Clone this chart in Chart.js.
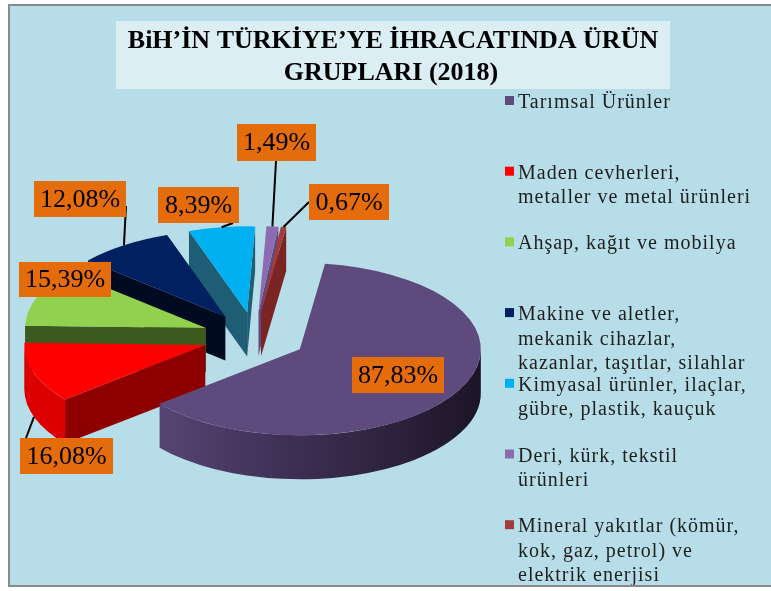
<!DOCTYPE html>
<html>
<head>
<meta charset="utf-8">
<script src="https://cdn.jsdelivr.net/npm/chart.js@4.4.0/dist/chart.umd.min.js"></script>
<style>
  html, body { margin: 0; padding: 0; background: #fff; }
  canvas { display: block; }
</style>
</head>
<body>
<canvas id="myChart" width="771" height="591"></canvas>
<script>
// data
const categories = [
  ['Tarımsal Ürünler'],
  ['Maden cevherleri,', 'metaller ve metal ürünleri'],
  ['Ahşap, kağıt ve mobilya'],
  ['Makine ve aletler,', 'mekanik cihazlar,', 'kazanlar, taşıtlar, silahlar'],
  ['Kimyasal ürünler, ilaçlar,', 'gübre, plastik, kauçuk'],
  ['Deri, kürk, tekstil', 'ürünleri'],
  ['Mineral yakıtlar (kömür,', 'kok, gaz, petrol) ve', 'elektrik enerjisi']
];
const shares = [87.83, 16.08, 15.39, 12.08, 8.39, 1.49, 0.67];
const titleLines = ['BiH’İN TÜRKİYE’YE İHRACATINDA ÜRÜN', 'GRUPLARI (2018)'];

// styles
const topColors = ['#5F4A7D', '#FF0000', '#92D050', '#002060', '#00B0F0', '#8C6BB1', '#A23B3B'];
const cutColors = ['#3E3054', '#8E0000', '#3D5A1F', '#000B22', '#1E5D74', '#5E4A7C', '#7B2424'];
const wallColors = [null, '#DC0000', '#5E8A30', '#001540', '#0A7FAF', '#6A5290', '#8A2C2C'];
const labelBoxes = [
  { x: 352, y: 357, w: 92, h: 36 },
  { x: 20, y: 438, w: 93, h: 36, ax: 26, ay: 438, drop: true },
  { x: 19, y: 262, w: 92, h: 35 },
  { x: 34, y: 181, w: 92, h: 36, ax: 126, ay: 206 },
  { x: 158, y: 187, w: 81, h: 36, ax: 233, ay: 223 },
  { x: 237, y: 124, w: 79, h: 37, ax: 276, ay: 161 },
  { x: 309, y: 184, w: 80, h: 36, ax: 309, ay: 202 }
];

const K = 0.476;      // vertical squash of the pie
const DEPTH = 44;     // thickness of the pie
const EXPLODE = 52;   // distance each slice is pulled out

const fmt = v => v.toFixed(2).replace('.', ',') + '%';

function screenGeom(chart, arc) {
  const { top, bottom } = chart.chartArea;
  const cy = (top + bottom) / 2;
  return {
    vx: arc.x,
    vy: cy + (arc.y - cy) * K,
    r: arc.outerRadius,
    ry: arc.outerRadius * K,
    cy: cy
  };
}

function drawSides(ctx, chart, arc, i) {
  const g = screenGeom(chart, arc);
  const a0 = arc.startAngle, a1 = arc.endAngle;
  const cut = (a, color) => {
    const px = g.vx + g.r * Math.cos(a), py = g.vy + g.ry * Math.sin(a);
    ctx.beginPath();
    ctx.moveTo(g.vx, g.vy);
    ctx.lineTo(px, py);
    ctx.lineTo(px, py + DEPTH);
    ctx.lineTo(g.vx, g.vy + DEPTH);
    ctx.closePath();
    ctx.fillStyle = color;
    ctx.fill();
  };
  if (Math.cos(a0) < 0) cut(a0, cutColors[i]);
  if (Math.cos(a1) > 0) cut(a1, cutColors[i]);

  const s = Math.max(a0, 0), e = Math.min(a1, Math.PI);
  if (s < e) {
    let fill = wallColors[i];
    if (!fill) {
      fill = ctx.createLinearGradient(g.vx - g.r, 0, g.vx + g.r, 0);
      fill.addColorStop(0, '#5E4A7C');
      fill.addColorStop(0.45, '#3F3156');
      fill.addColorStop(0.8, '#2A2039');
      fill.addColorStop(1, '#1C1426');
    }
    ctx.beginPath();
    ctx.ellipse(g.vx, g.vy, g.r, g.ry, 0, s, e, false);
    ctx.ellipse(g.vx, g.vy + DEPTH, g.r, g.ry, 0, e, s, true);
    ctx.closePath();
    ctx.fillStyle = fill;
    ctx.fill();
  }
}

const pie3d = {
  id: 'pie3d',
  beforeDraw(chart) {
    const ctx = chart.ctx;
    ctx.save();
    ctx.fillStyle = '#FFFFFF';
    ctx.fillRect(0, 0, chart.width, chart.height);
    ctx.fillStyle = '#B7DEE8';
    ctx.fillRect(10, 6, chart.width - 10, 579);
    // title box
    ctx.fillStyle = '#DAEEF3';
    ctx.fillRect(116, 21, 554, 68);
    ctx.fillStyle = '#000';
    ctx.font = 'bold 26px "Liberation Serif"';
    ctx.textAlign = 'center';
    ctx.textBaseline = 'alphabetic';
    ctx.fillText(titleLines[0], 393, 48);
    ctx.fillText(titleLines[1], 391, 80);
    // legend
    ctx.textAlign = 'left';
    ctx.font = '20px "Liberation Serif"';
    ctx.letterSpacing = '1px';
    categories.forEach((lines, i) => {
      const base = 108 + i * 70.7;
      ctx.fillStyle = topColors[i];
      ctx.fillRect(505, base - 12, 9, 9);
      ctx.fillStyle = '#1E1E1E';
      lines.forEach((t, j) => ctx.fillText(t, 518, base + j * 24.5));
    });
    ctx.restore();
  },
  afterDatasetUpdate(chart) {
    const meta = chart.getDatasetMeta(0);
    meta.data.forEach(arc => {
      const mid = (arc.startAngle + arc.endAngle) / 2;
      arc.x += Math.cos(mid) * EXPLODE;
      arc.y += Math.sin(mid) * EXPLODE;
    });
  },
  beforeDatasetsDraw(chart) {
    const ctx = chart.ctx;
    const arcs = chart.getDatasetMeta(0).data;
    const midSin = a => Math.sin((a.startAngle + a.endAngle) / 2);
    const order = arcs.map((a, i) => i).sort((i, j) => midSin(arcs[i]) - midSin(arcs[j]));
    ctx.save();
    order.forEach(i => drawSides(ctx, chart, arcs[i], i));
    ctx.restore();
    const cy = (chart.chartArea.top + chart.chartArea.bottom) / 2;
    ctx.save();
    ctx.translate(0, cy);
    ctx.scale(1, K);
    ctx.translate(0, -cy);
  },
  afterDatasetsDraw(chart) {
    const ctx = chart.ctx;
    ctx.restore();
    const arcs = chart.getDatasetMeta(0).data;
    ctx.save();
    // leader lines
    ctx.strokeStyle = '#000';
    ctx.lineWidth = 2;
    arcs.forEach((arc, i) => {
      const b = labelBoxes[i];
      if (b.ax === undefined) return;
      const g = screenGeom(chart, arc);
      const m = (arc.startAngle + arc.endAngle) / 2;
      const px = g.vx + g.r * Math.cos(m);
      const py = g.vy + g.ry * Math.sin(m) + (b.drop ? DEPTH : 0);
      ctx.beginPath();
      ctx.moveTo(b.ax, b.ay);
      ctx.lineTo(px, py);
      ctx.stroke();
    });
    // value boxes
    ctx.font = '26px "Liberation Serif"';
    ctx.textAlign = 'center';
    ctx.textBaseline = 'middle';
    shares.forEach((v, i) => {
      const b = labelBoxes[i];
      ctx.fillStyle = '#E46C0A';
      ctx.fillRect(b.x, b.y, b.w, b.h);
      ctx.fillStyle = '#000';
      ctx.fillText(fmt(v), b.x + b.w / 2, b.y + b.h / 2 + 1);
    });
    ctx.restore();
  },
  afterDraw(chart) {
    const ctx = chart.ctx;
    ctx.save();
    ctx.fillStyle = '#FFFFFF';
    ctx.fillRect(0, 587, chart.width, chart.height - 587);
    ctx.fillRect(0, 0, chart.width, 4);
    ctx.fillRect(0, 0, 8, chart.height);
    ctx.fillStyle = '#8A8A8A';
    ctx.fillRect(8, 4, chart.width - 8, 2);
    ctx.fillRect(8, 585, chart.width - 8, 2);
    ctx.fillRect(8, 4, 2, 583);
    ctx.restore();
  }
};

new Chart(document.getElementById('myChart'), {
  type: 'pie',
  data: {
    labels: categories,
    datasets: [{
      data: shares,
      backgroundColor: topColors,
      borderWidth: 0,
      clip: false
    }]
  },
  options: {
    responsive: false,
    devicePixelRatio: 1,
    animation: false,
    rotation: 8,
    radius: 181,
    layout: { padding: { left: 0, right: 262, top: 83, bottom: 0 } },
    plugins: {
      legend: { display: false },
      title: { display: false },
      tooltip: { enabled: false }
    }
  },
  plugins: [pie3d]
});
</script>
</body>
</html>
